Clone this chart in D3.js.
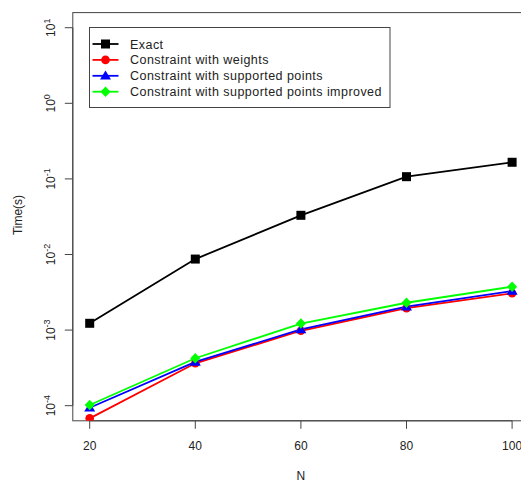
<!DOCTYPE html>
<html><head><meta charset="utf-8">
<script src="https://cdn.jsdelivr.net/npm/d3@7/dist/d3.min.js"></script>
<style>body{margin:0;background:#fff}svg{display:block;font-family:"Liberation Sans",Arial,sans-serif}</style>
</head><body><svg id="c" width="521" height="482"></svg>
<script>
const N = [20, 40, 60, 80, 100];
const exact = [1.23e-3, 8.7e-3, 3.3e-2, 1.07e-1, 1.66e-1];
const weights = [6.8e-5, 3.64e-4, 9.8e-4, 1.95e-3, 3.07e-3];
const supported = [9.4e-5, 3.8e-4, 1.02e-3, 2.04e-3, 3.29e-3];
const improved = [1.02e-4, 4.24e-4, 1.22e-3, 2.3e-3, 3.75e-3];
const seriesNames = ["Exact", "Constraint with weights", "Constraint with supported points", "Constraint with supported points improved"];
const seriesColors = ["#000000", "#ff0000", "#0000ff", "#00ff00"];
const seriesShapes = ["square", "circle", "triangle", "diamond"];
const xTicks = [20, 40, 60, 80, 100];
const yExps = [-4, -3, -2, -1, 0, 1];

const seriesVals = [exact, weights, supported, improved];
const svg = d3.select("#c");
const L = 72.8, R = 529, T = 12.6, B = 420.8;
const x = d3.scaleLinear().domain([16.8, 103.2]).range([L, R]);
const ly = d3.scaleLinear().domain([-4 - 0.2, 1 + 0.2]).range([B, T]);
const y = v => ly(Math.log10(v));

svg.append("defs").append("clipPath").attr("id","clip").append("rect")
  .attr("x", L).attr("y", T).attr("width", R - L).attr("height", B - T);

function marker(g, shape, cx, cy, color) {
  if (shape === "square") g.append("rect").attr("x", cx-4.5).attr("y", cy-4.5).attr("width", 9).attr("height", 9).attr("fill", color);
  else if (shape === "circle") g.append("circle").attr("cx", cx).attr("cy", cy).attr("r", 4.3).attr("fill", color);
  else if (shape === "triangle") g.append("path").attr("d", `M${cx},${cy-5.2}L${cx+5.5},${cy+3.8}L${cx-5.5},${cy+3.8}Z`).attr("fill", color);
  else g.append("path").attr("d", `M${cx},${cy-5.2}L${cx+5},${cy}L${cx},${cy+5.2}L${cx-5},${cy}Z`).attr("fill", color);
}

// box
svg.append("rect").attr("x", L).attr("y", T).attr("width", R - L).attr("height", B - T)
  .attr("fill", "none").attr("stroke", "#444").attr("stroke-width", 1);

// x axis
const xg = svg.append("g");
xg.append("line").attr("x1", x(20)).attr("x2", x(100)).attr("y1", B).attr("y2", B).attr("stroke", "#444");
xTicks.forEach(t => {
  xg.append("line").attr("x1", x(t)).attr("x2", x(t)).attr("y1", B).attr("y2", B + 8).attr("stroke", "#444");
  xg.append("text").attr("x", x(t)).attr("y", 450).attr("text-anchor", "middle").attr("font-size", 12).attr("fill", "#222").text(t);
});
svg.append("text").attr("x", (L + R) / 2).attr("y", 479.5).attr("text-anchor", "middle").attr("font-size", 12).attr("fill", "#222").text("N");

// y axis
const yg = svg.append("g");
yg.append("line").attr("x1", L).attr("x2", L).attr("y1", ly(-4)).attr("y2", ly(1)).attr("stroke", "#444");
yExps.forEach(e => {
  const yy = ly(e);
  yg.append("line").attr("x1", L - 8).attr("x2", L).attr("y1", yy).attr("y2", yy).attr("stroke", "#444");
  const t = yg.append("text").attr("transform", `translate(55,${yy}) rotate(-90)`).attr("text-anchor", "middle").attr("font-size", 12).attr("fill", "#222");
  t.append("tspan").text("10");
  t.append("tspan").attr("dy", -5).attr("font-size", 9).text(e);
});
svg.append("text").attr("transform", `translate(22,215) rotate(-90)`).attr("text-anchor", "middle").attr("font-size", 12).attr("fill", "#222").text("Time(s)");

// series
const plot = svg.append("g").attr("clip-path", "url(#clip)");
const line = d3.line().x((d, i) => x(N[i])).y(d => y(d));
seriesVals.forEach((vals, si) => {
  plot.append("path").attr("d", line(vals)).attr("fill", "none").attr("stroke", seriesColors[si]).attr("stroke-width", 1.8);
});
seriesVals.forEach((vals, si) => {
  vals.forEach((v, i) => marker(plot, seriesShapes[si], x(N[i]), y(v), seriesColors[si]));
});

// legend
const lg = svg.append("g");
lg.append("rect").attr("x", 89.5).attr("y", 27.5).attr("width", 300.5).attr("height", 80).attr("fill", "#fff").attr("stroke", "#444");
seriesNames.forEach((n, i) => {
  const yy = 44 + i * 15.9;
  lg.append("line").attr("x1", 92.5).attr("x2", 118.5).attr("y1", yy).attr("y2", yy).attr("stroke", seriesColors[i]).attr("stroke-width", 1.8);
  marker(lg, seriesShapes[i], 105.5, yy, seriesColors[i]);
  lg.append("text").attr("x", 130).attr("y", yy + 4.5).attr("font-size", 12.5).attr("letter-spacing", 0.45).attr("fill", "#222").text(n);
});
</script></body></html>
